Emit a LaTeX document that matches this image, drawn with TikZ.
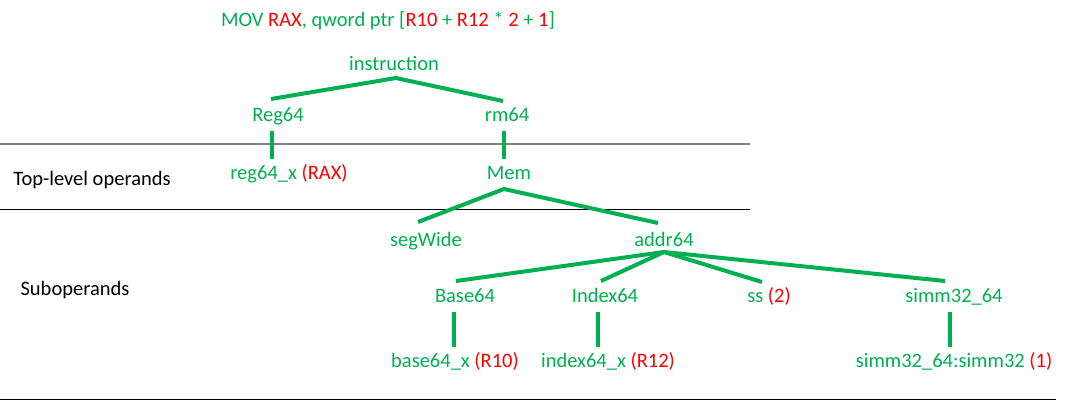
\documentclass[tikz,border=0pt]{standalone}
\usepackage{fontspec}
\setmainfont{Carlito}
\definecolor{tgreen}{HTML}{00B050}
\definecolor{tred}{HTML}{FF0000}
\begin{document}
\begin{tikzpicture}[x=1pt,y=-1pt,
  every node/.style={font=\fontsize{20.5}{24}\selectfont},
  tn/.style={text=tgreen, inner sep=0pt, outer sep=6pt, text height=14pt, text depth=4pt},
  lbl/.style={text=black, inner sep=0pt},
  edge/.style={draw=tgreen, line width=4pt}]
\useasboundingbox (0,0) rectangle (1068,400);
% separator lines
\coordinate (g1) at (0,144); \coordinate (g2) at (750,144);
\coordinate (b1) at (0,209); \coordinate (b2) at (750,209);
\coordinate (c1) at (0,399); \coordinate (c2) at (1056,399);
\draw[gray, line width=1.5pt] (g1) -- (g2);
\draw[black, line width=1pt] (b1) -- (b2);
\draw[black, line width=1pt] (c1) -- (c2);
% title
\node[tn] (title) at (388,21) {MOV \textcolor{tred}{RAX}, qword ptr [\textcolor{tred}{R10} + \textcolor{tred}{R12} * \textcolor{tred}{2} + \textcolor{tred}{1}]};
% labels
\node[lbl] (top) at (92,180) {Top-level operands};
\node[lbl] (sub) at (75,290) {Suboperands};
% tree nodes
\node[tn] (instr) at (394,65) {instruction};
\node[tn] (reg) at (278,116) {Reg64};
\node[tn] (rm) at (507,116) {rm64};
\node[tn] (regx) at (289,174) {reg64\_x \textcolor{tred}{(RAX)}};
\node[tn] (mem) at (509,174) {Mem};
\node[tn] (seg) at (426,241) {segWide};
\node[tn] (addr) at (664,241) {addr64};
\node[tn] (base) at (465,297) {Base64};
\node[tn] (index) at (605,297) {Index64};
\node[tn] (ss) at (769,297) {ss \textcolor{tred}{(2)}};
\node[tn] (simm) at (954,297) {simm32\_64};
\node[tn] (basex) at (455,362) {base64\_x \textcolor{tred}{(R10)}};
\node[tn] (indexx) at (608,362) {index64\_x \textcolor{tred}{(R12)}};
\node[tn] (simmx) at (954,362) {simm32\_64:simm32 \textcolor{tred}{(1)}};
% connectors
\draw[edge] ([xshift=-7pt,yshift=2pt]reg.north) -- ([xshift=2pt,yshift=2pt]instr.south) -- ([xshift=-4pt]rm.north);
\draw[edge] ([xshift=-6pt]reg.south) -- ([xshift=-6pt]reg.south |- regx.north);
\draw[edge] ([xshift=-3pt]rm.south) -- ([xshift=-3pt]rm.south |- mem.north);
\draw[edge] ([xshift=-8pt,yshift=4pt]seg.north) -- ([xshift=-5pt]mem.south) -- ([xshift=-6pt,yshift=3pt]addr.north);
\draw[edge] ([xshift=-9pt,yshift=1pt]base.north) -- ([yshift=4pt]addr.south);
\draw[edge] ([xshift=-4pt,yshift=1pt]index.north) -- ([yshift=4pt]addr.south);
\draw[edge] ([xshift=-7pt]ss.north) -- ([yshift=4pt]addr.south);
\draw[edge] ([xshift=-9pt,yshift=1pt]simm.north) -- ([yshift=4pt]addr.south);
\draw[edge] ([xshift=-11pt]base.south) -- ([xshift=-11pt]base.south |- basex.north);
\draw[edge] ([xshift=-7pt]index.south) -- ([xshift=-7pt]index.south |- indexx.north);
\draw[edge] ([xshift=-4pt]simm.south) -- ([xshift=-4pt]simm.south |- simmx.north);
\end{tikzpicture}
\end{document}
